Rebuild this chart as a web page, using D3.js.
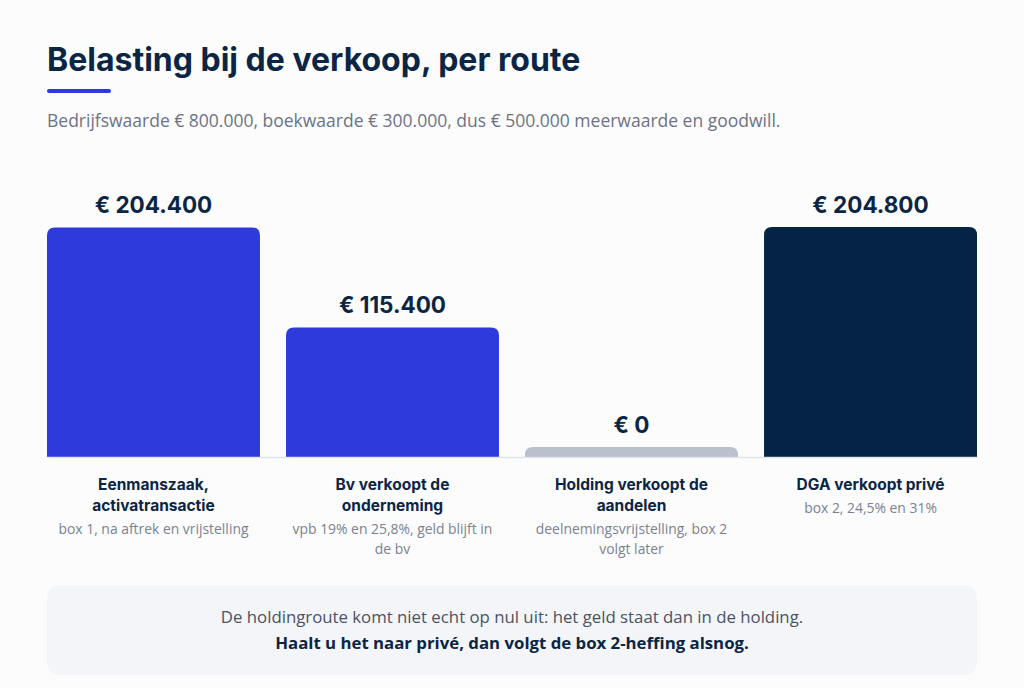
<!DOCTYPE html>
<html><head><meta charset="utf-8">
<script src="https://cdn.jsdelivr.net/npm/d3@7"></script>
<style>
html,body{margin:0;padding:0;background:#fcfcfd;}
svg{display:block;}
</style></head>
<body>
<svg id="c" width="1024" height="688"></svg>
<script>
const categories = ["Eenmanszaak, activatransactie","Bv verkoopt de onderneming","Holding verkoopt de aandelen","DGA verkoopt privé"];
const titleLines = [["Eenmanszaak,","activatransactie"],["Bv verkoopt de","onderneming"],["Holding verkoopt de","aandelen"],["DGA verkoopt privé"]];
const subLines = [["box 1, na aftrek en vrijstelling"],["vpb 19% en 25,8%, geld blijft in","de bv"],["deelnemingsvrijstelling, box 2","volgt later"],["box 2, 24,5% en 31%"]];
const values = [204400,115400,0,204800];
const valueLabels = ["€ 204.400","€ 115.400","€ 0","€ 204.800"];
const colors = ["#2e3adb","#2e3adb","#b9c1cd","#052445"];

const svg = d3.select("#c");
const navy = "#0b2545";
const headFont = "Inter, 'DejaVu Sans', sans-serif";
const bodyFont = "'Open Sans', 'Noto Sans', sans-serif";

svg.append("text").attr("x",47).attr("y",71).attr("font-family",headFont).attr("font-weight",700)
  .attr("font-size",32).attr("fill",navy).text("Belasting bij de verkoop, per route");
svg.append("rect").attr("x",47).attr("y",89).attr("width",64).attr("height",4).attr("rx",2).attr("fill","#2e3adb");
svg.append("text").attr("x",47).attr("y",127).attr("font-family",bodyFont).attr("font-size",17.5)
  .attr("fill","#6b7385").text("Bedrijfswaarde € 800.000, boekwaarde € 300.000, dus € 500.000 meerwaarde en goodwill.");

const x = d3.scaleBand().domain(categories).range([47,977]).paddingInner(0.109).paddingOuter(0);
const y = d3.scaleLinear().domain([0,204800]).range([457,227]);
const minH = 10, r = 8;

function topRounded(x0,y0,w,h,rr){
  rr = Math.min(rr,h,w/2);
  return `M${x0},${y0+h}V${y0+rr}Q${x0},${y0} ${x0+rr},${y0}H${x0+w-rr}Q${x0+w},${y0} ${x0+w},${y0+rr}V${y0+h}Z`;
}

const g = svg.append("g");
categories.forEach((c,i)=>{
  const h = Math.max(minH, y(0)-y(values[i]));
  const top = y(0)-h;
  g.append("path").attr("d",topRounded(x(c),top,x.bandwidth(),h,r)).attr("fill",colors[i]);
  g.append("text").attr("x",x(c)+x.bandwidth()/2).attr("y",top-14).attr("text-anchor","middle")
    .attr("font-family",headFont).attr("font-weight",700).attr("font-size",22.5).attr("fill",navy)
    .text(valueLabels[i]);
  const cx = x(c)+x.bandwidth()/2;
  titleLines[i].forEach((t,j)=>{
    g.append("text").attr("x",cx).attr("y",490+j*21).attr("text-anchor","middle")
      .attr("font-family",headFont).attr("font-weight",700).attr("font-size",15.5).attr("fill",navy).text(t);
  });
  const sy = 490 + titleLines[i].length*21 + 2;
  subLines[i].forEach((t,j)=>{
    g.append("text").attr("x",cx).attr("y",sy+j*20).attr("text-anchor","middle")
      .attr("font-family",bodyFont).attr("font-size",13.9).attr("fill","#7a8292").text(t);
  });
});
svg.append("line").attr("x1",47).attr("x2",977).attr("y1",457.5).attr("y2",457.5).attr("stroke","#dfe3ea").attr("stroke-width",1.5);

svg.append("rect").attr("x",47).attr("y",585).attr("width",930).attr("height",90).attr("rx",12).attr("fill","#f3f5f9");
svg.append("text").attr("x",512).attr("y",623).attr("text-anchor","middle").attr("font-family",bodyFont)
  .attr("font-size",16.8).attr("fill","#4a5264").text("De holdingroute komt niet echt op nul uit: het geld staat dan in de holding.");
svg.append("text").attr("x",512).attr("y",649).attr("text-anchor","middle").attr("font-family",bodyFont)
  .attr("font-weight",700).attr("font-size",16.8).attr("fill",navy).text("Haalt u het naar privé, dan volgt de box 2-heffing alsnog.");
</script>
</body></html>
